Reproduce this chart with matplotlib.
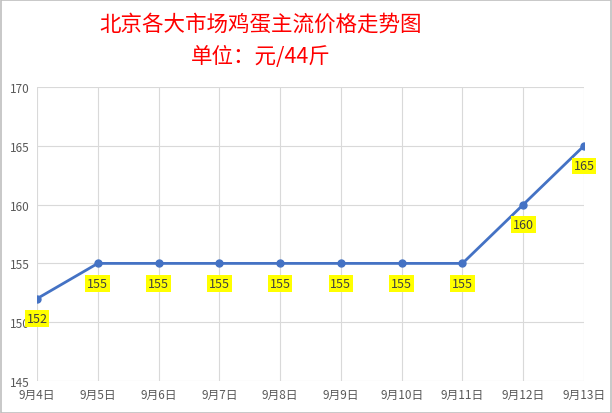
import matplotlib
matplotlib.use("Agg")
import matplotlib.pyplot as plt
from matplotlib.patches import Rectangle

plt.rcParams["font.family"] = ["Noto Sans CJK SC", "DejaVu Sans"]

dates = ["9月4日", "9月5日", "9月6日", "9月7日", "9月8日", "9月9日",
         "9月10日", "9月11日", "9月12日", "9月13日"]
prices = [152, 155, 155, 155, 155, 155, 155, 155, 160, 165]
y_ticks = [145, 150, 155, 160, 165, 170]

fig = plt.figure(figsize=(6.12, 4.14), dpi=100)
ax = fig.add_axes([37 / 612, 1 - 382 / 414, (584 - 37) / 612, (382 - 88) / 414])

x = list(range(len(dates)))
ax.plot(x, prices, color="#4472C4", lw=2.0, marker="o", ms=5, zorder=3)

for xi, v in zip(x, prices):
    ax.annotate(str(v), (xi, v), xytext=(0, -14.5), textcoords="offset points",
                ha="center", va="center", fontsize=9, color="#404040",
                bbox=dict(boxstyle="square,pad=0.15", fc="#FFFF00", ec="none"),
                zorder=4, annotation_clip=False)

ax.set_xlim(0, len(dates) - 1)
ax.set_ylim(145, 170)
ax.set_xticks(x)
ax.set_xticklabels(dates)
ax.set_yticks(y_ticks)
ax.tick_params(length=0, labelsize=8.5, labelcolor="#595959", pad=5)
ax.grid(True, color="#D9D9D9", lw=0.8)
ax.set_axisbelow(True)
for s in ax.spines.values():
    s.set_visible(False)

fig.text(261 / 612, 1 - 25 / 414, "北京各大市场鸡蛋主流价格走势图", color="red",
         fontsize=15.5, ha="center", va="center")
fig.text(261 / 612, 1 - 57 / 414, "单位：元/44斤", color="red",
         fontsize=15.5, ha="center", va="center")

fig.patches.append(Rectangle((0.001, 0.001), 0.997, 0.997, transform=fig.transFigure,
                             fill=False, ec="#BFBFBF", lw=1.2))

fig.savefig("out.png", dpi=100)
